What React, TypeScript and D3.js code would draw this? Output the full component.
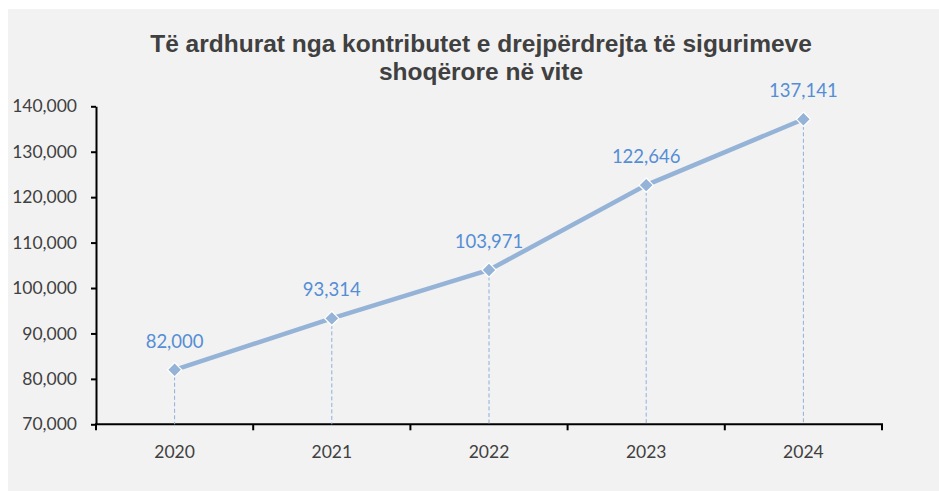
import React, { useEffect, useRef } from 'react';
import * as d3 from 'd3';

const years = ['2020', '2021', '2022', '2023', '2024'];
const values = [82000, 93314, 103971, 122646, 137141];
const yTicks = [70000, 80000, 90000, 100000, 110000, 120000, 130000, 140000];
const titleLines = ['Të ardhurat nga kontributet e drejpërdrejta të sigurimeve', 'shoqërore në vite'];

const W = 939;
const H = 491;
const labelFont = 'Lato, "Open Sans", sans-serif';

function App() {
  const ref = useRef<SVGSVGElement>(null);

  useEffect(() => {
    const svg = d3.select(ref.current);
    svg.selectAll('*').remove();

    svg.append('rect').attr('x', 8).attr('y', 9).attr('width', W - 8).attr('height', H - 9).attr('fill', '#f2f2f2');

    // title
    svg.append('text')
      .attr('text-anchor', 'middle')
      .attr('font-family', '"Liberation Sans", Arial, sans-serif')
      .attr('font-weight', 'bold')
      .attr('font-size', 24.5)
      .attr('fill', '#404040')
      .selectAll('tspan')
      .data(titleLines)
      .join('tspan')
      .attr('x', 481)
      .attr('y', (d, i) => 52 + i * 28)
      .text(d => d);

    const x = d3.scaleBand().domain(years).range([96, 882]);
    const y = d3.scaleLinear().domain([70000, 140000]).range([424.3, 106.3]);

    // y axis
    const yAxis = svg.append('g')
      .attr('transform', 'translate(96,0)')
      .call(d3.axisLeft(y).tickValues(yTicks).tickSize(5).tickSizeOuter(0).tickFormat(d3.format(',')));
    yAxis.select('.domain').attr('stroke', '#000').attr('stroke-width', 2);
    yAxis.selectAll('.tick line').attr('stroke', '#000').attr('stroke-width', 2);
    yAxis.selectAll('.tick text')
      .attr('x', -19)
      .attr('font-family', labelFont)
      .attr('font-size', 17.5)
      .attr('fill', '#404040');

    // x axis with ticks between categories
    const xg = svg.append('g').attr('transform', 'translate(0,424.3)');
    xg.append('line').attr('x1', 95).attr('x2', 883).attr('stroke', '#000').attr('stroke-width', 2);
    const bounds = years.map(d => x(d) as number).concat([882]);
    xg.selectAll('line.tk')
      .data(bounds)
      .join('line')
      .attr('class', 'tk')
      .attr('x1', d => d)
      .attr('x2', d => d)
      .attr('y1', 0)
      .attr('y2', 6)
      .attr('stroke', '#000')
      .attr('stroke-width', 2);
    xg.selectAll('text')
      .data(years)
      .join('text')
      .attr('x', d => (x(d) as number) + x.bandwidth() / 2)
      .attr('y', 34)
      .attr('text-anchor', 'middle')
      .attr('font-family', labelFont)
      .attr('font-size', 17.5)
      .attr('fill', '#404040')
      .text(d => d);

    const cx = (i: number) => (x(years[i]) as number) + x.bandwidth() / 2;

    // drop lines
    svg.append('g')
      .selectAll('line')
      .data(values)
      .join('line')
      .attr('x1', (d, i) => cx(i))
      .attr('x2', (d, i) => cx(i))
      .attr('y1', d => y(d))
      .attr('y2', y(70000))
      .attr('stroke', '#8eb0dc')
      .attr('stroke-width', 1)
      .attr('stroke-dasharray', '4,2.5');

    const line = d3.line<number>().x((d, i) => cx(i)).y(d => y(d));
    svg.append('path')
      .datum(values)
      .attr('d', line)
      .attr('fill', 'none')
      .attr('stroke', '#95b3d7')
      .attr('stroke-width', 4.5);

    svg.append('g')
      .selectAll('path')
      .data(values)
      .join('path')
      .attr('d', d3.symbol().type(d3.symbolDiamond2).size(130))
      .attr('transform', (d, i) => `translate(${cx(i)},${y(d)})`)
      .attr('fill', '#95b3d7')
      .attr('stroke', '#fff')
      .attr('stroke-width', 1.2);

    svg.append('g')
      .selectAll('text')
      .data(values)
      .join('text')
      .attr('x', (d, i) => cx(i))
      .attr('y', d => y(d) - 22)
      .attr('text-anchor', 'middle')
      .attr('font-family', labelFont)
      .attr('font-size', 18.5)
      .attr('fill', '#558ed5')
      .text(d => d3.format(',')(d));
  }, []);

  return (
    <svg ref={ref} width={W} height={H} style={{ position: 'absolute', left: 0, top: 0 }} />
  );
}

export default App;
